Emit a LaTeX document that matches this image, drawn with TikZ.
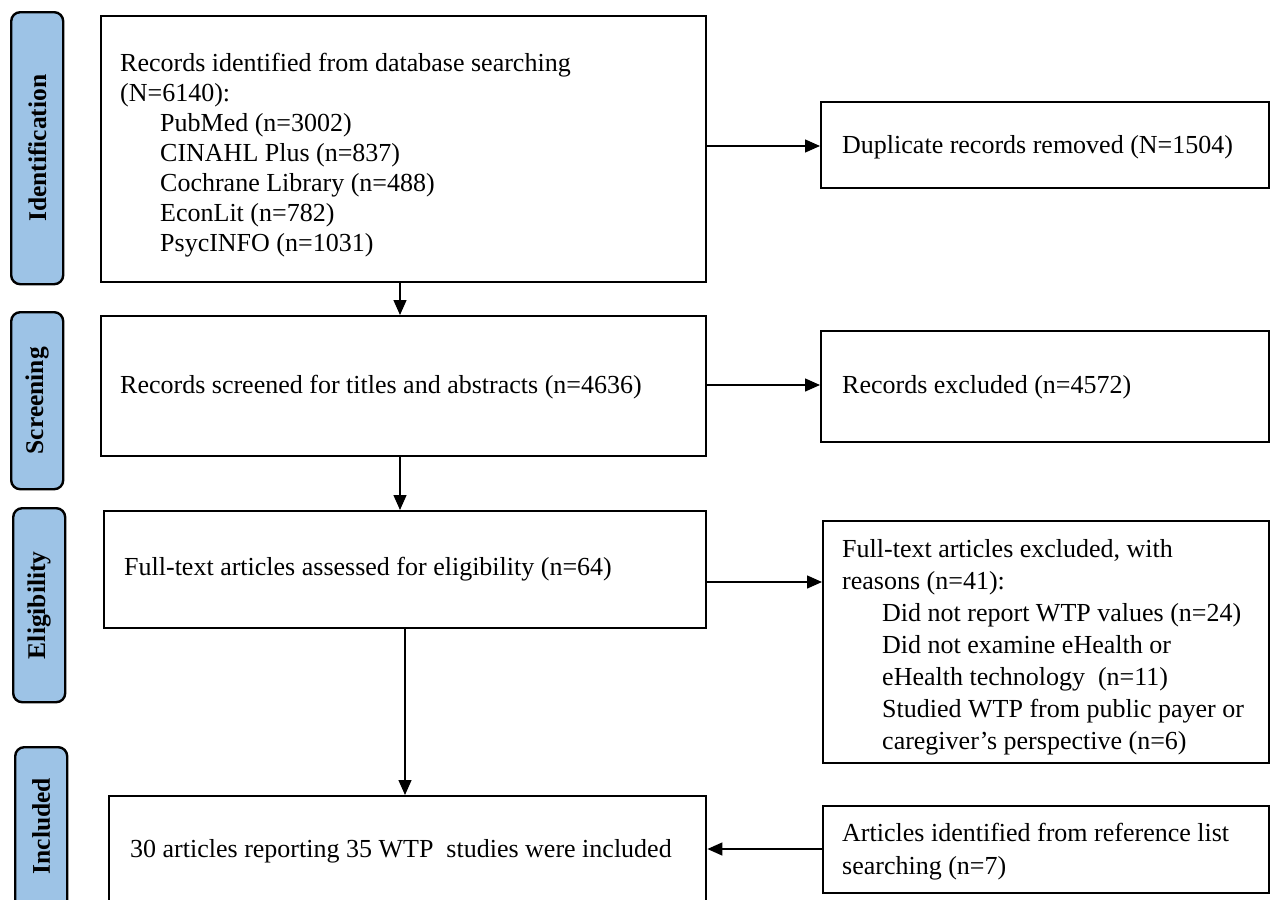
\documentclass[tikz,border=0pt]{standalone}
\usepackage{fontspec}
\setmainfont{Liberation Serif}
\usetikzlibrary{arrows.meta}
\definecolor{stageblue}{RGB}{157,195,230}
\tikzset{
  box/.style={draw=black, line width=2.4pt, rectangle, anchor=north west, inner sep=0pt},
  txt/.style={anchor=west, align=left, inner sep=0pt, font=\fontsize{26}{30.5}\selectfont},
  stage/.style={draw=black, line width=2.4pt, fill=stageblue, rounded corners=9pt,
    anchor=north west, minimum width=52pt},
  stagetext/.style={rotate=90, font=\fontsize{25.5}{28}\selectfont\bfseries},
  arr/.style={line width=1.4pt, -{Triangle[length=15pt,width=13pt]}}
}
\newcommand{\ind}{\hspace*{40pt}}
\begin{document}
\begin{tikzpicture}[x=1pt,y=-1pt]
\useasboundingbox (0,0) rectangle (1270,900);
% stage labels
\node[stage, minimum height=272pt] (s1) at (10,11) {};
\node[stagetext] (t1) at (s1.center) {Identification};
\node[stage, minimum height=177pt] (s2) at (10,311) {};
\node[stagetext] (t2) at (s2.center) {Screening};
\node[stage, minimum height=194pt] (s3) at (12,507) {};
\node[stagetext] (t3) at (s3.center) {Eligibility};
\node[stage, minimum height=170pt] (s4) at (14,746) {};
\node[stagetext] (t4) at ([yshift=6pt]s4.center) {Included};
% main boxes
\node[box, minimum width=605pt, minimum height=266pt] (b1) at (100,15) {};
\node[txt, font=\fontsize{26}{30}\selectfont] (b1t) at (120,155)
 {Records identified\ from\ database\ searching\\(N=6140):\\
  \ind PubMed (n=3002)\\\ind CINAHL Plus (n=837)\\\ind Cochrane Library (n=488)\\
  \ind EconLit (n=782)\\\ind PsycINFO (n=1031)};
\node[box, minimum width=448pt, minimum height=86pt] (b2) at (820,101) {};
\node[txt] (b2t) at (842,147) {Duplicate records removed (N=1504)};
\node[box, minimum width=605pt, minimum height=140pt] (b3) at (100,315) {};
\node[txt] (b3t) at (120,387) {Records screened for titles and abstracts (n=4636)};
\node[box, minimum width=448pt, minimum height=111pt] (b4) at (820,330) {};
\node[txt] (b4t) at (842,387) {Records excluded (n=4572)};
\node[box, minimum width=602pt, minimum height=117pt] (b5) at (103,510) {};
\node[txt] (b5t) at (124,569) {Full-text articles assessed for eligibility (n=64)};
\node[box, minimum width=446pt, minimum height=242pt] (b6) at (822,520) {};
\node[txt, font=\fontsize{26}{32}\selectfont] (b6t) at (842,647)
 {Full-text articles excluded, with\\reasons (n=41):\\
  \ind Did not report WTP values (n=24)\\\ind Did not examine eHealth or\\
  \ind eHealth technology\ \ (n=11)\\\ind Studied WTP from public payer or\\
  \ind caregiver's perspective (n=6)};
\node[box, minimum width=597pt, minimum height=112pt] (b7) at (108,795) {};
\node[txt] (b7t) at (130,851) {30 articles reporting 35 WTP\ \ studies were included};
\node[box, minimum width=446pt, minimum height=87pt] (b8) at (822,805) {};
\node[txt, font=\fontsize{26}{33}\selectfont] (b8t) at (842,851.5)
 {Articles identified from reference list\\searching (n=7)};
% connectors
\draw[arr] (b1.east |- 0,146) -- (b2.west |- 0,146);
\draw[arr] (400,281) -- (b3.north -| 400,0);
\draw[arr] (b3.east |- 0,385) -- (b4.west |- 0,385);
\draw[arr] (400,455) -- (b5.north -| 400,0);
\draw[arr] (b5.east |- 0,582) -- (b6.west |- 0,582);
\draw[arr] (405,627) -- (b7.north -| 405,0);
\draw[arr] (b8.west |- 0,849) -- (b7.east |- 0,849);
\end{tikzpicture}
\end{document}
